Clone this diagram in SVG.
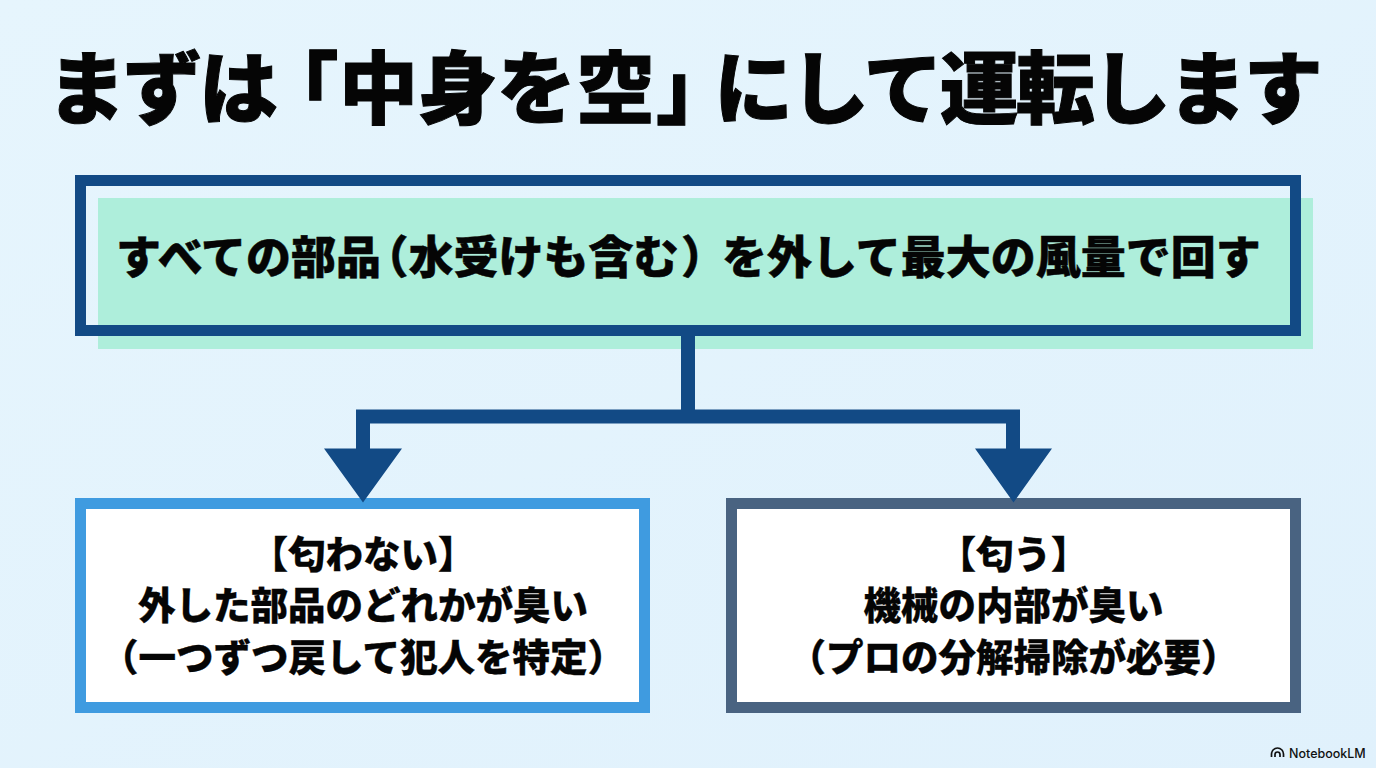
<svg xmlns="http://www.w3.org/2000/svg" width="1376" height="768" viewBox="0 0 1376 768">
<defs><linearGradient id="bg" x1="0" y1="0" x2="1" y2="1"><stop offset="0" stop-color="#e6f5fd"/><stop offset="1" stop-color="#e0f1fc"/></linearGradient></defs>
<style>
text{font-family:"Noto Sans CJK JP","Noto Sans",sans-serif;fill:#050505;stroke:#050505;font-weight:900}
.t{font-size:79px;stroke-width:1px}
.m{font-size:45px;stroke-width:.5px}
.b{font-size:37.5px;stroke-width:.3px;text-anchor:middle}
.l{fill:#fff;stroke-width:11px}
.h{font-feature-settings:"halt"}
</style>
<rect width="1376" height="768" fill="url(#bg)"/>
<text id="title" class="t" y="118"><tspan x="47" letter-spacing="-3">まずは</tspan><tspan class="h" x="299">「</tspan><tspan x="339">中身を空</tspan><tspan class="h" x="656">」</tspan><tspan x="714" letter-spacing="-3">にして運転します</tspan></text>
<g id="top"><rect x="98" y="198" width="1215" height="151" fill="#aeeedb"/><rect x="80.500" y="180.500" width="1215" height="150" fill="none" stroke="#124a85" stroke-width="11"/><text class="m" y="274"><tspan x="116">すべての部品</tspan><tspan class="h" x="386">（</tspan><tspan x="408.500">水受けも含む</tspan><tspan class="h" x="681">）</tspan><tspan x="722">を外して最大の風量で回す</tspan></text></g>
<g id="left"><rect class="l" x="80.500" y="503.500" width="564" height="204" stroke="#3f9be0"/><text class="b" x="363" y="568">【匂わない】</text><text class="b" x="363" y="619">外した部品のどれかが臭い</text><text class="b" x="363" y="671">（一つずつ戻して犯人を特定）</text></g>
<g id="right"><rect class="l" x="731.500" y="503.500" width="564" height="204" stroke="#496381"/><text class="b" x="1013.500" y="568">【匂う】</text><text class="b" x="1013.500" y="619">機械の内部が臭い</text><text class="b" x="1013.500" y="671">（プロの分解掃除が必要）</text></g>
<g id="connectors" fill="#124a85">
<path d="M681 331h14v78.500h325v39h32l-38.500 54-38.500-54h31v-25H370v25h32l-39 54-39-54h32v-39h325z"/>
</g>
<g id="logo"><path d="M1271.500 757v-3a6 6 0 0 1 12 0v3M1275 757v-2.500a2.500 2.500 0 0 1 5 0v2.500" fill="none" stroke="#111" stroke-width="1.700"/><text x="1289" y="758" style="font-family:'Inter','Noto Sans',sans-serif;font-size:12.500px;font-weight:500;fill:#111;stroke:none">NotebookLM</text></g>
</svg>
